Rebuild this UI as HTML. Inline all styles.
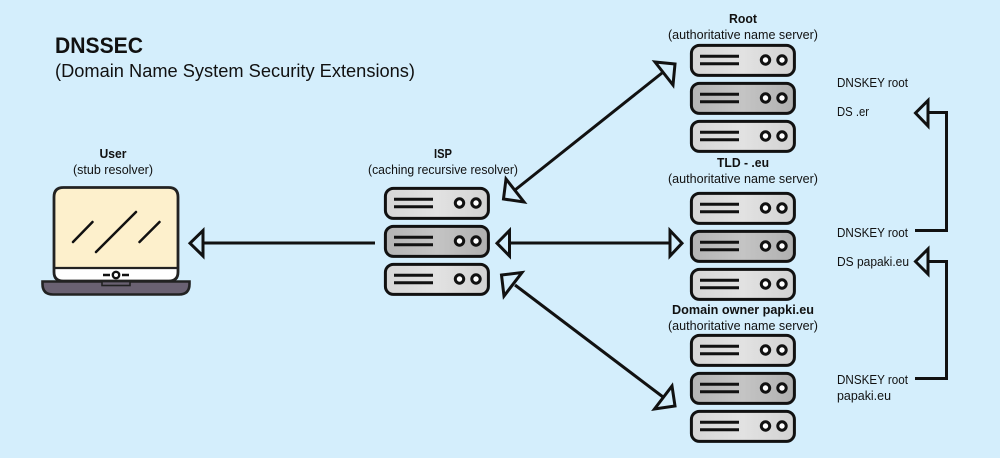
<!DOCTYPE html>
<html>
<head>
<meta charset="utf-8">
<style>
html,body{margin:0;padding:0;background:#d4eefc}
svg{display:block}
text{font-family:"Liberation Sans",sans-serif;fill:#111;font-size:12.5px}
.b{font-weight:bold}
.a{fill:none;stroke:#111;stroke-width:3}
.h{fill:none;stroke:#111;stroke-width:3;stroke-linejoin:miter}
</style>
</head>
<body>
<svg xmlns="http://www.w3.org/2000/svg" xmlns:xlink="http://www.w3.org/1999/xlink" width="1000" height="458" viewBox="0 0 1000 458">
<defs>
<linearGradient id="g1" x1="0" x2="1" y1="0" y2="0"><stop offset="0" stop-color="#d6d6d6"/><stop offset="0.5" stop-color="#e2e2e2"/><stop offset="1" stop-color="#d2d2d2"/></linearGradient>
<linearGradient id="g2" x1="0" x2="1" y1="0" y2="0"><stop offset="0" stop-color="#b4b4b4"/><stop offset="0.5" stop-color="#c4c4c4"/><stop offset="1" stop-color="#b0b0b0"/></linearGradient>
<g id="u1">
<rect x="1.4" y="1.4" width="103" height="30" rx="8" fill="url(#g1)" stroke="#111" stroke-width="3"/>
<path d="M10 12.2H49M10 19.8H49" stroke="#111" stroke-width="3" fill="none"/>
<circle cx="75.500" cy="16" r="4.200" fill="#fff" stroke="#111" stroke-width="3"/>
<circle cx="92" cy="16" r="4.200" fill="#fff" stroke="#111" stroke-width="3"/>
</g>
<g id="u2">
<rect x="1.4" y="1.4" width="103" height="30" rx="8" fill="url(#g2)" stroke="#111" stroke-width="3"/>
<path d="M10 12.2H49M10 19.8H49" stroke="#111" stroke-width="3" fill="none"/>
<circle cx="75.500" cy="16" r="4.200" fill="#fff" stroke="#111" stroke-width="3"/>
<circle cx="92" cy="16" r="4.200" fill="#fff" stroke="#111" stroke-width="3"/>
</g>
<g id="stack">
<use xlink:href="#u1" href="#u1" y="0"/>
<use xlink:href="#u2" href="#u2" y="38"/>
<use xlink:href="#u1" href="#u1" y="76"/>
</g>
</defs>

<rect width="1000" height="458" fill="#d4eefc"/>

<!-- Title -->
<text class="b" x="55" y="53" style="font-size:22px" textLength="88" lengthAdjust="spacingAndGlyphs">DNSSEC</text>
<text x="55" y="77" style="font-size:18px" textLength="360" lengthAdjust="spacingAndGlyphs">(Domain Name System Security Extensions)</text>

<!-- Laptop -->
<path d="M42.5 281.5H189.5V284Q189.5 294.5 179 294.5H53Q42.5 294.5 42.5 284Z" fill="#6a6172" stroke="#222" stroke-width="2.6"/>
<rect x="102" y="281" width="28" height="4.5" fill="#6a6172" stroke="#222" stroke-width="1.6"/>
<path d="M54 268V197Q54 187.5 63.5 187.5H168.5Q178 187.5 178 197V268Z" fill="#fdf0cc"/>
<path d="M54 268H178V272Q178 281 169 281H63Q54 281 54 272Z" fill="#fff"/>
<path d="M54 272V197Q54 187.5 63.5 187.5H168.5Q178 187.5 178 197V272Q178 281 169 281H63Q54 281 54 272Z" fill="none" stroke="#222" stroke-width="2.800"/>
<path d="M54 268H178" stroke="#222" stroke-width="2.200" fill="none"/>
<path d="M73 242L92.500 222M96 252L136 212M139.500 242L159.500 222" stroke="#111" stroke-width="2.500" fill="none" stroke-linecap="round"/>
<circle cx="116" cy="275" r="3.200" fill="#fff" stroke="#111" stroke-width="2.400"/>
<path d="M103 275H110M122 275H129" stroke="#111" stroke-width="2.400" fill="none"/>

<!-- Servers -->
<use xlink:href="#stack" href="#stack" x="384" y="187"/>
<use xlink:href="#stack" href="#stack" x="690" y="44"/>
<use xlink:href="#stack" href="#stack" x="690" y="192"/>
<use xlink:href="#stack" href="#stack" x="690" y="334"/>

<!-- Arrows -->
<path class="a" d="M203 243H375"/>
<path class="h" d="M203 230.500V256L190 243.200Z"/>

<path class="a" d="M509 243H670"/>
<path class="h" d="M509.500 230.500V256L497 243.200Z"/>
<path class="h" d="M670 230.500V256L682 243.200Z"/>

<path class="a" d="M662 73L515 190"/>
<path class="h" d="M655 62L675 64L673 85Z"/>
<path class="h" d="M506 179L503.500 199L524 202Z"/>

<path class="a" d="M515 285L663 397"/>
<path class="h" d="M501.500 275L522 272.500L504 296Z"/>
<path class="h" d="M672 386L675 406L654.500 409Z"/>

<path class="a" d="M928 112.500H946.500V230.500H915"/>
<path class="h" d="M928 100.500V126L915.500 113Z"/>
<path class="a" d="M928 261.500H946.500V378.500H915"/>
<path class="h" d="M928 249V274L915.500 261.500Z"/>

<!-- Labels -->
<text class="b" x="113" y="158" text-anchor="middle" textLength="27" lengthAdjust="spacingAndGlyphs">User</text>
<text x="113" y="174" text-anchor="middle" textLength="80" lengthAdjust="spacingAndGlyphs">(stub resolver)</text>
<text class="b" x="443" y="158" text-anchor="middle" textLength="18" lengthAdjust="spacingAndGlyphs">ISP</text>
<text x="443" y="174" text-anchor="middle" textLength="150" lengthAdjust="spacingAndGlyphs">(caching recursive resolver)</text>

<text class="b" x="743" y="23" text-anchor="middle" textLength="28" lengthAdjust="spacingAndGlyphs">Root</text>
<text x="743" y="39" text-anchor="middle" textLength="150" lengthAdjust="spacingAndGlyphs">(authoritative name server)</text>
<text class="b" x="743" y="167" text-anchor="middle" textLength="52" lengthAdjust="spacingAndGlyphs">TLD - .eu</text>
<text x="743" y="183" text-anchor="middle" textLength="150" lengthAdjust="spacingAndGlyphs">(authoritative name server)</text>
<text class="b" x="743" y="314" text-anchor="middle" textLength="142" lengthAdjust="spacingAndGlyphs">Domain owner papki.eu</text>
<text x="743" y="330" text-anchor="middle" textLength="150" lengthAdjust="spacingAndGlyphs">(authoritative name server)</text>

<text x="837" y="87" textLength="71" lengthAdjust="spacingAndGlyphs">DNSKEY root</text>
<text x="837" y="116" textLength="32" lengthAdjust="spacingAndGlyphs">DS .er</text>
<text x="837" y="237" textLength="71" lengthAdjust="spacingAndGlyphs">DNSKEY root</text>
<text x="837" y="266" textLength="72" lengthAdjust="spacingAndGlyphs">DS papaki.eu</text>
<text x="837" y="384" textLength="71" lengthAdjust="spacingAndGlyphs">DNSKEY root</text>
<text x="837" y="400" textLength="54" lengthAdjust="spacingAndGlyphs">papaki.eu</text>
</svg>
</body>
</html>
